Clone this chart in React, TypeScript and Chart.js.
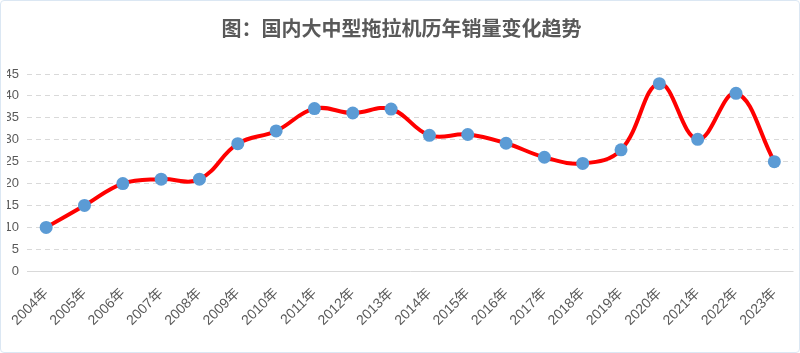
import React, { useEffect, useRef } from "react";
import { Chart, registerables } from "chart.js";
Chart.register(...registerables);

const titleText = "图：国内大中型拖拉机历年销量变化趋势";
const years = ["2004年","2005年","2006年","2007年","2008年","2009年","2010年","2011年","2012年","2013年","2014年","2015年","2016年","2017年","2018年","2019年","2020年","2021年","2022年","2023年"];
const sales = [10, 15, 20, 21, 21, 29.1, 32, 37.1, 36.1, 37, 31, 31.2, 29.2, 26, 24.6, 27.7, 42.8, 30.1, 40.6, 25];
const yMin = 0;
const yMax = 45;
const yStep = 5;

const FONT = "'Liberation Sans', 'Noto Sans CJK SC', sans-serif";

export default function App() {
  const ref = useRef<HTMLCanvasElement>(null);
  useEffect(() => {
    document.body.style.margin = "0";
    const chart = new Chart(ref.current!, {
      type: "line",
      data: {
        labels: years,
        datasets: [
          {
            data: sales,
            borderColor: "#ff0000",
            borderWidth: 4,
            tension: 0.4,
            pointRadius: 6.5,
            pointHoverRadius: 6.5,
            pointBackgroundColor: "#5b9bd5",
            pointBorderColor: "#5b9bd5",
            pointBorderWidth: 0,
          },
        ],
      },
      options: {
        animation: false,
        responsive: false,
        maintainAspectRatio: false,
        layout: { padding: { left: 7, right: 4, top: 0, bottom: 18 } },
        plugins: {
          legend: { display: false },
          tooltip: { enabled: false },
          title: {
            display: true,
            text: titleText,
            color: "#595959",
            font: { family: FONT, size: 20, weight: "bold" },
            padding: { top: 18, bottom: 32 },
          },
        },
        scales: {
          x: {
            offset: true,
            grid: { display: false },
            border: { display: false },
            afterFit: (scale: any) => {
              scale.paddingLeft = 0;
              scale.paddingRight = 0;
            },
            ticks: {
              color: "#595959",
              font: { family: FONT, size: 14 },
              maxRotation: 45,
              minRotation: 45,
              autoSkip: false,
              padding: 6,
            },
          },
          y: {
            min: yMin,
            max: yMax,
            afterFit: (scale: any) => {
              scale.width = 20;
            },
            ticks: {
              stepSize: yStep,
              color: "#595959",
              font: { family: FONT, size: 13 },
              padding: 8,
            },
            grid: {
              color: "#d9d9d9",
              lineWidth: 1,
              drawTicks: false,
            },
            border: {
              display: false,
              dash: (ctx: any) => (ctx.tick && ctx.tick.value === 0 ? [] : [5, 4]),
            },
          },
        },
      },
    });
    return () => chart.destroy();
  }, []);
  return (
    <div style={{ position: "relative", width: 800, height: 353, background: "#fff" }}>
      <canvas ref={ref} width={800} height={353} style={{ display: "block" }} />
      <div
        style={{
          position: "absolute",
          left: 0,
          top: 0,
          width: 798,
          height: 351,
          border: "1px solid #dbe7f3",
          borderRadius: 4,
          pointerEvents: "none",
        }}
      />
    </div>
  );
}
